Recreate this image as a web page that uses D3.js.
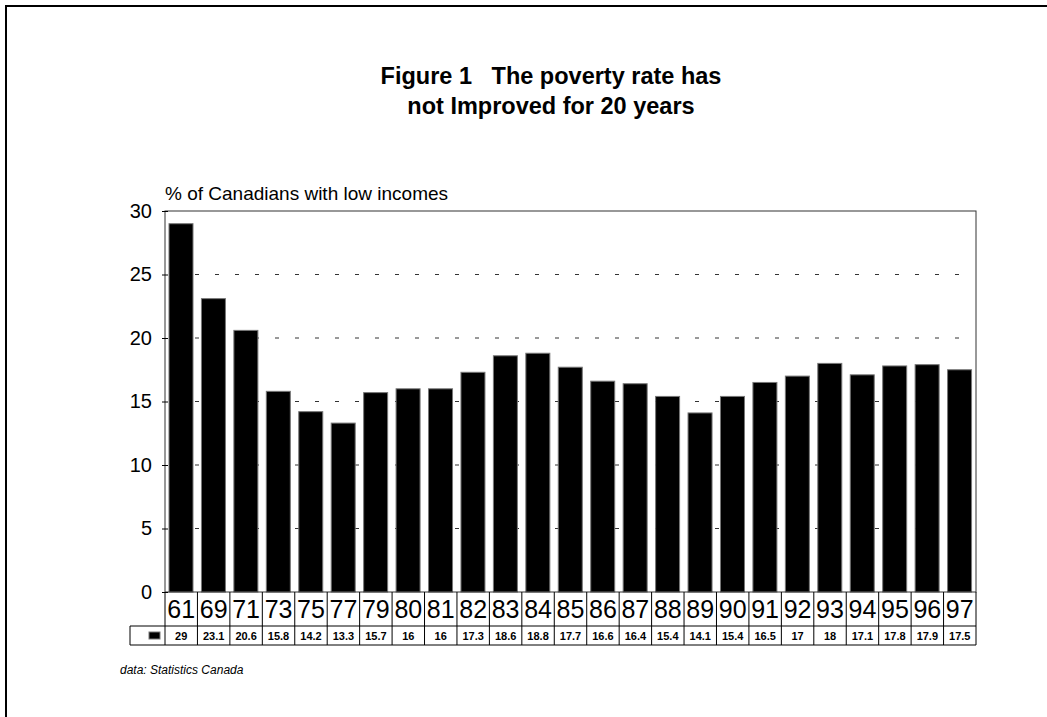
<!DOCTYPE html>
<html>
<head>
<meta charset="utf-8">
<script src="https://cdn.jsdelivr.net/npm/d3@7"></script>
<style>
  html, body { margin: 0; padding: 0; background: #fff; }
  svg { display: block; font-family: "Liberation Sans", Arial, sans-serif; }
</style>
</head>
<body>
<svg id="chart" width="1047" height="717"></svg>
<script>
// Low-income rate in Canada, selected years
const years = ["61","69","71","73","75","77","79","80","81","82","83","84","85","86","87","88","89","90","91","92","93","94","95","96","97"];
const rates = [29, 23.1, 20.6, 15.8, 14.2, 13.3, 15.7, 16, 16, 17.3, 18.6, 18.8, 17.7, 16.6, 16.4, 15.4, 14.1, 15.4, 16.5, 17, 18, 17.1, 17.8, 17.9, 17.5];
const yTicks = [0, 5, 10, 15, 20, 25, 30];
const titleLines = ["Figure 1   The poverty rate has", "not Improved for 20 years"];
const yTitle = "% of Canadians with low incomes";
const sourceNote = "data: Statistics Canada";

const svg = d3.select("#chart");

// outer frame
svg.append("rect")
  .attr("x", 6).attr("y", 6).attr("width", 1200).attr("height", 900)
  .attr("fill", "none").attr("stroke", "#000").attr("stroke-width", 2);

const plot = { left: 165, right: 976, top: 211, bottom: 592 };

const x = d3.scaleBand().domain(years).range([plot.left, plot.right]).padding(0);
const y = d3.scaleLinear().domain([0, 30]).range([plot.bottom, plot.top]);

// title
svg.append("g").selectAll("text").data(titleLines).join("text")
  .attr("x", 551)
  .attr("y", (d, i) => 84 + i * 30)
  .attr("text-anchor", "middle")
  .attr("font-size", 23.5).attr("font-weight", "bold")
  .style("white-space", "pre")
  .text(d => d);

// y axis title
svg.append("text")
  .attr("x", plot.left).attr("y", 200)
  .attr("font-size", 19)
  .text(yTitle);

// dashed gridlines behind bars
svg.append("g").selectAll("line").data(yTicks.filter(t => t > 0 && t < 30)).join("line")
  .attr("x1", plot.left + 6).attr("x2", plot.right - 4)
  .attr("y1", d => y(d)).attr("y2", d => y(d))
  .attr("stroke", "#333").attr("stroke-width", 1)
  .attr("stroke-dasharray", "4,16")
  .attr("stroke-dashoffset", -4);

// bars
const barW = 24;
svg.append("g").selectAll("rect").data(rates).join("rect")
  .attr("x", (d, i) => x(years[i]) + 4)
  .attr("y", d => y(d))
  .attr("width", barW)
  .attr("height", d => y(0) - y(d))
  .attr("fill", "#000")
  .attr("stroke", "#777").attr("stroke-width", 1);

// plot frame
svg.append("rect")
  .attr("x", plot.left).attr("y", plot.top)
  .attr("width", plot.right - plot.left).attr("height", plot.bottom - plot.top)
  .attr("fill", "none").attr("stroke", "#333").attr("stroke-width", 1);

// y axis with ticks crossing the frame
const yAxis = d3.axisLeft(y).tickValues(yTicks).tickSize(3).tickPadding(10);
const gy = svg.append("g").attr("transform", `translate(${plot.left},0)`).call(yAxis);
gy.select(".domain").remove();
gy.selectAll(".tick line").attr("x2", 3).attr("x1", -3).attr("stroke", "#000");
gy.selectAll(".tick text").attr("font-size", 20).attr("fill", "#000")
  .attr("font-family", "'Liberation Sans', Arial, sans-serif");

// data table: year row and value row
const rowYearTop = plot.bottom, rowYearBot = 626, rowValBot = 645, legendLeft = 130;
const table = svg.append("g").attr("stroke", "#000").attr("stroke-width", 1);
table.append("line").attr("x1", legendLeft).attr("x2", plot.right).attr("y1", rowYearBot).attr("y2", rowYearBot);
table.append("line").attr("x1", legendLeft).attr("x2", plot.right).attr("y1", rowValBot).attr("y2", rowValBot);
table.append("line").attr("x1", legendLeft).attr("x2", legendLeft).attr("y1", rowYearBot).attr("y2", rowValBot);
table.selectAll("line.col").data(years.concat(["end"])).join("line")
  .attr("class", "col")
  .attr("x1", (d, i) => plot.left + i * x.bandwidth())
  .attr("x2", (d, i) => plot.left + i * x.bandwidth())
  .attr("y1", rowYearTop).attr("y2", rowValBot);

svg.append("g").selectAll("text").data(years).join("text")
  .attr("x", d => x(d) + x.bandwidth() / 2)
  .attr("y", 618)
  .attr("text-anchor", "middle")
  .attr("font-size", 25)
  .text(d => d);

svg.append("g").selectAll("text").data(rates).join("text")
  .attr("x", (d, i) => x(years[i]) + x.bandwidth() / 2)
  .attr("y", 640)
  .attr("text-anchor", "middle")
  .attr("font-size", 11).attr("font-weight", "bold")
  .text(d => d);

// legend swatch
svg.append("rect")
  .attr("x", 149).attr("y", 632).attr("width", 11).attr("height", 7)
  .attr("fill", "#000").attr("stroke", "#777").attr("stroke-width", 1);

// source note
svg.append("text")
  .attr("x", 120).attr("y", 674)
  .attr("font-size", 12).attr("font-style", "italic")
  .text(sourceNote);
</script>
</body>
</html>
